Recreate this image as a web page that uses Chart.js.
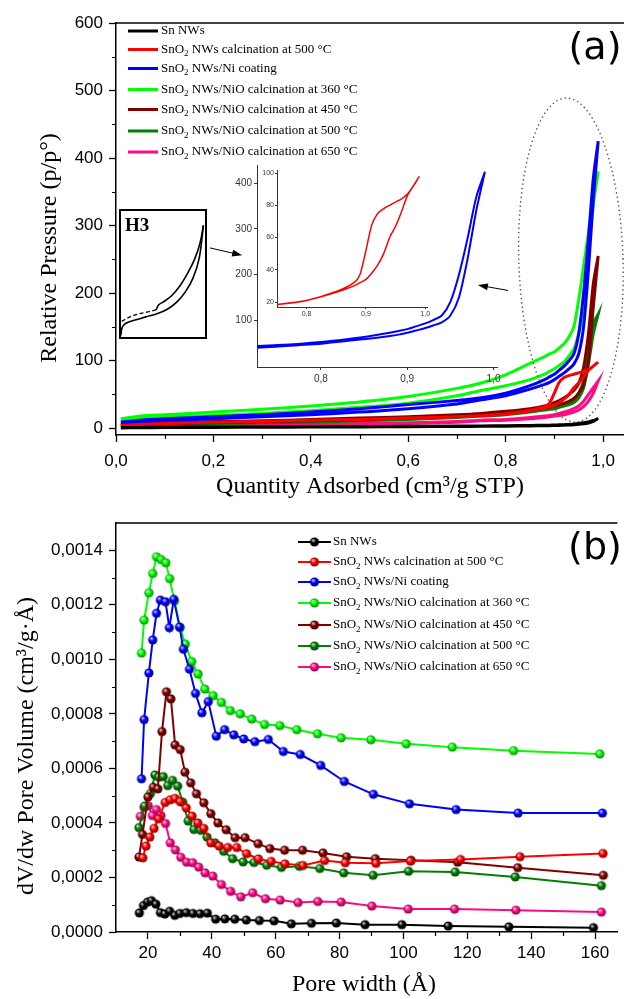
<!DOCTYPE html>
<html>
<head>
<meta charset="utf-8">
<script src="https://cdn.jsdelivr.net/npm/chart.js@4.4.1/dist/chart.umd.min.js"></script>
<style>
  html, body { margin: 0; padding: 0; background: #fff; }
  #wrap { position: relative; width: 624px; height: 999px; overflow: hidden; }
  .box { position: absolute; }
</style>
</head>
<body>
<div id="wrap">
  <div class="box" style="left:0;top:0;width:624px;height:500px"><canvas id="chartA" width="624" height="500"></canvas></div>
  <div class="box" style="left:0;top:500px;width:624px;height:499px"><canvas id="chartB" width="624" height="499"></canvas></div>
  <div class="box" style="left:118px;top:208px;width:90px;height:132px"><canvas id="insetH3" width="90" height="132"></canvas></div>
  <div class="box" style="left:215px;top:155px;width:300px;height:240px"><canvas id="insetNi" width="300" height="240"></canvas></div>
  <div class="box" style="left:250px;top:162px;width:190px;height:165px"><canvas id="insetSnO2" width="190" height="165"></canvas></div>
</div>
<script>
// ---------- panel (a): isotherms ----------
const P = [0.01, 0.05, 0.1, 0.2, 0.3, 0.4, 0.5, 0.6, 0.7, 0.75, 0.8, 0.85, 0.88, 0.89, 0.9, 0.91, 0.92, 0.93, 0.94, 0.95, 0.96, 0.97, 0.98, 0.99];

const adsSn   = [0.5, 0.8, 1, 1.2, 1.5, 1.8, 2, 2.3, 2.6, 2.8, 3, 3.4, 3.7, 3.8, 4, 4.2, 4.5, 4.8, 5.2, 5.8, 6.6, 7.8, 10, 14.5];
const desSn   = [1, 1.2, 1.5, 1.8, 2, 2.3, 2.6, 2.9, 3.2, 3.4, 3.7, 4.1, 4.5, 4.6, 4.8, 5, 5.3, 5.7, 6.2, 7, 8, 9.3, 11.5, 14.5];
const adsSnO2 = [4, 6, 7, 9, 10, 12, 13, 15, 17, 18.5, 21, 26, 30, 32, 34, 38, 43, 50, 60, 67, 76, 86, 92, 98];
const desSnO2 = [4, 6, 7, 9, 10, 12, 13, 15, 17, 18.5, 21, 26.5, 32, 37, 52, 68, 75, 78, 80, 82, 84, 87, 92, 98];
const adsNi   = [6, 9, 11, 14, 17, 20, 24, 29, 36, 42, 48, 58, 65, 68, 72, 77, 82, 88, 95, 110, 150, 235, 340, 425];
const desNi   = [9, 12, 14, 17, 20, 24, 29, 35, 41, 45, 52, 63, 72, 76, 80, 86, 92, 100, 110, 140, 200, 280, 370, 425];
const ads360  = [10, 14, 16, 19, 22, 26, 31, 37, 48, 56, 63, 72, 80, 84, 88, 93, 98, 107, 117, 140, 175, 255, 330, 380];
const des360  = [14, 18, 20, 24, 28, 33, 39, 47, 59, 67, 79, 96, 106, 110, 113, 119, 125, 135, 150, 190, 240, 290, 345, 380];
const ads450  = [4, 6, 7, 8, 10, 11, 13, 15, 18, 20, 23, 27, 30, 31, 33, 35, 37, 40, 44, 52, 64, 100, 180, 255];
const des450  = [5, 7, 8, 10, 11, 13, 15, 17, 20, 22, 25, 29, 33, 35, 38, 41, 45, 50, 56, 66, 90, 140, 214, 255];
const ads500  = [3, 5, 6, 7, 8, 9, 11, 13, 16, 18, 20, 24, 27, 28, 29, 31, 33, 35, 38, 45, 60, 95, 140, 169];
const des500  = [4, 6, 7, 8, 9, 11, 12, 14, 17, 19, 22, 26, 29, 30, 32, 34, 36, 39, 43, 52, 70, 110, 155, 169];
const ads650  = [1, 2, 2, 3, 4, 5, 6, 7, 9, 11, 12, 14, 16, 17, 18, 19, 20, 22, 24, 27, 32, 40, 52, 70];
const des650  = [2, 3, 3, 4, 5, 6, 7, 8, 10, 12, 13, 16, 18, 19, 20, 22, 24, 26, 29, 33, 40, 50, 60, 70];

const xTicksA = [0, 0.2, 0.4, 0.6, 0.8, 1.0];
const yTicksA = [0, 100, 200, 300, 400, 500, 600];

// H3 sketch (unitless box coordinates)
const h3AdsX  = [0.01, 0.02, 0.04, 0.1, 0.2, 0.3, 0.43, 0.55, 0.66, 0.76, 0.85, 0.92, 0.97];
const h3AdsY  = [0.02, 0.07, 0.1, 0.125, 0.145, 0.165, 0.19, 0.225, 0.28, 0.36, 0.47, 0.62, 0.88];
const h3DesX  = [0.97, 0.93, 0.87, 0.79, 0.7, 0.6, 0.5, 0.45, 0.42];
const h3DesY  = [0.88, 0.74, 0.62, 0.51, 0.41, 0.33, 0.28, 0.26, 0.22];
const h3DashX = [0.42, 0.3, 0.2, 0.1, 0.02];
const h3DashY = [0.22, 0.2, 0.185, 0.16, 0.13];

// ---------- panel (b): pore size distribution ----------
const wSn   = [17.3, 18.6, 19.9, 21.1, 22.5, 23.9, 25.3, 26.8, 28.4, 30.0, 32.0, 34.1, 36.3, 38.6, 41.2, 44.1, 47.2, 50.8, 54.9, 59.5, 64.9, 71.2, 79.0, 88.0, 99.5, 114.0, 133.0, 159.5];
const vSn   = [0.000070, 0.000097, 0.000110, 0.000115, 0.000102, 0.000071, 0.000066, 0.000076, 0.000061, 0.000068, 0.000071, 0.000068, 0.000067, 0.000069, 0.000047, 0.000048, 0.000047, 0.000044, 0.000042, 0.000041, 0.000030, 0.000032, 0.000033, 0.000027, 0.000027, 0.000022, 0.000019, 0.000016];
const wSnO2 = [18.4, 19.4, 20.6, 21.9, 23.3, 25.4, 27.0, 28.5, 30.1, 32.0, 33.8, 35.6, 37.5, 39.7, 42.3, 45.0, 47.8, 50.9, 54.6, 58.6, 62.9, 68.5, 75.3, 81.8, 91.4, 102.2, 117.9, 136.5, 162.5];
const vSnO2 = [0.000272, 0.000315, 0.000348, 0.000380, 0.000415, 0.000475, 0.000485, 0.000490, 0.000478, 0.000455, 0.000425, 0.000400, 0.000380, 0.000327, 0.000315, 0.000310, 0.000310, 0.000287, 0.000268, 0.000259, 0.000250, 0.000244, 0.000262, 0.000254, 0.000252, 0.000260, 0.000266, 0.000276, 0.000288];
const wNi   = [18.0, 18.8, 20.3, 21.5, 22.7, 23.9, 25.5, 26.7, 28.1, 29.9, 31.1, 33.0, 34.9, 36.9, 38.9, 41.4, 44.0, 46.9, 50.0, 53.5, 57.7, 62.4, 67.7, 74.1, 81.5, 90.6, 101.9, 116.5, 135.9, 162.3];
const vNi   = [0.000562, 0.000779, 0.000950, 0.001071, 0.001169, 0.001217, 0.001211, 0.001116, 0.001220, 0.001119, 0.001037, 0.000964, 0.000875, 0.000804, 0.000845, 0.000718, 0.000742, 0.000723, 0.000708, 0.000698, 0.000706, 0.000662, 0.000651, 0.000611, 0.000552, 0.000505, 0.000470, 0.000449, 0.000436, 0.000436];
const w360  = [18.0, 18.8, 20.3, 21.5, 22.7, 24.1, 25.6, 26.8, 28.3, 30.1, 31.7, 33.7, 35.7, 37.8, 40.4, 43.0, 45.8, 48.9, 52.5, 56.5, 61.3, 66.6, 73.1, 80.5, 89.8, 100.9, 115.3, 134.5, 161.5];
const v360  = [0.001023, 0.001144, 0.001244, 0.001315, 0.001376, 0.001366, 0.001354, 0.001296, 0.001214, 0.001116, 0.001056, 0.000992, 0.000946, 0.000891, 0.000867, 0.000842, 0.000812, 0.000800, 0.000781, 0.000761, 0.000757, 0.000742, 0.000727, 0.000712, 0.000705, 0.000690, 0.000678, 0.000665, 0.000653];
const w450  = [17.2, 18.3, 20.0, 21.7, 23.1, 24.4, 25.8, 27.2, 28.5, 30.1, 31.6, 33.4, 35.2, 37.5, 39.7, 41.9, 44.5, 47.3, 50.4, 54.5, 58.2, 62.8, 68.4, 74.8, 82.2, 91.2, 102.4, 117.0, 135.8, 162.6];
const v450  = [0.000275, 0.000358, 0.000495, 0.000531, 0.000525, 0.000735, 0.000881, 0.000855, 0.000686, 0.000669, 0.000586, 0.000547, 0.000507, 0.000474, 0.000434, 0.000400, 0.000375, 0.000346, 0.000346, 0.000324, 0.000306, 0.000300, 0.000300, 0.000290, 0.000276, 0.000269, 0.000263, 0.000256, 0.000236, 0.000208];
const w500  = [17.2, 19.0, 20.8, 22.2, 23.4, 24.8, 26.2, 27.7, 29.3, 30.9, 32.6, 34.4, 36.5, 38.5, 41.0, 43.7, 46.5, 49.8, 53.2, 57.2, 61.8, 67.4, 73.8, 81.3, 90.5, 101.6, 116.2, 135.0, 162.0];
const v500  = [0.000383, 0.000462, 0.000508, 0.000576, 0.000568, 0.000570, 0.000537, 0.000556, 0.000535, 0.000476, 0.000407, 0.000376, 0.000373, 0.000348, 0.000327, 0.000296, 0.000269, 0.000257, 0.000255, 0.000245, 0.000237, 0.000241, 0.000233, 0.000217, 0.000208, 0.000223, 0.000220, 0.000202, 0.000170];
const w650  = [17.6, 18.8, 20.1, 21.4, 22.7, 24.1, 25.5, 27.0, 28.6, 30.3, 32.1, 34.0, 35.9, 37.9, 40.3, 43.0, 45.9, 49.1, 52.8, 56.8, 61.4, 67.0, 73.2, 80.5, 90.1, 101.5, 116.0, 135.2, 162.0];
const v650  = [0.000424, 0.000457, 0.000463, 0.000427, 0.000449, 0.000427, 0.000398, 0.000327, 0.000301, 0.000274, 0.000256, 0.000254, 0.000238, 0.000217, 0.000205, 0.000174, 0.000149, 0.000129, 0.000144, 0.000122, 0.000117, 0.000108, 0.000112, 0.000110, 0.000095, 0.000084, 0.000084, 0.000080, 0.000073];

const xTicksB = [20, 40, 60, 80, 100, 120, 140, 160];
const yTicksB = [0, 0.0002, 0.0004, 0.0006, 0.0008, 0.0010, 0.0012, 0.0014];

const seriesNames = [
  'Sn NWs',
  'SnO2 NWs calcination at 500 °C',
  'SnO2 NWs/Ni coating',
  'SnO2 NWs/NiO calcination at 360 °C',
  'SnO2 NWs/NiO calcination at 450 °C',
  'SnO2 NWs/NiO calcination at 500 °C',
  'SnO2 NWs/NiO calcination at 650 °C'
];
const seriesColors = ['#000000', '#ff0000', '#0000ff', '#00ff00', '#800000', '#008000', '#ff0a85'];

const adsAll = [adsSn, adsSnO2, adsNi, ads360, ads450, ads500, ads650];
const desAll = [desSn, desSnO2, desNi, des360, des450, des500, des650];
const wAll = [wSn, wSnO2, wNi, w360, w450, w500, w650];
const vAll = [vSn, vSnO2, vNi, v360, v450, v500, v650];

// ---------- helpers ----------
function loop(ads, des) {
  const pts = P.map((p, i) => ({ x: p, y: ads[i] }));
  for (let i = P.length - 1; i >= 0; i--) pts.push({ x: P[i], y: des[i] });
  return pts;
}
function pairs(xs, ys) {
  return xs.map((x, i) => ({ x: x, y: ys[i] }));
}
function mix(hex, target, t) {
  const n = parseInt(hex.slice(1), 16);
  const r = (n >> 16) & 255, g = (n >> 8) & 255, b = n & 255;
  const m = c => Math.round(c + (target - c) * t);
  return 'rgb(' + m(r) + ',' + m(g) + ',' + m(b) + ')';
}
function makeBall(color, r) {
  const c = document.createElement('canvas');
  const s = Math.ceil(r * 2 + 2);
  c.width = s; c.height = s;
  const g = c.getContext('2d');
  const grad = g.createRadialGradient(s / 2 - r * 0.35, s / 2 - r * 0.4, r * 0.1, s / 2, s / 2, r);
  grad.addColorStop(0, mix(color, 255, 0.75));
  grad.addColorStop(0.45, color);
  grad.addColorStop(1, mix(color, 0, 0.45));
  g.fillStyle = grad;
  g.beginPath(); g.arc(s / 2, s / 2, r, 0, Math.PI * 2); g.fill();
  return c;
}
const balls = seriesColors.map(c => makeBall(c, 4.6));

// text with subscript 2 in "SnO2"
function drawLabel(ctx, text, x, y, size) {
  ctx.textBaseline = 'middle';
  ctx.textAlign = 'left';
  ctx.fillStyle = '#000';
  const font = size + 'px "Liberation Serif", "Times New Roman", serif';
  const small = Math.round(size * 0.68) + 'px "Liberation Serif", "Times New Roman", serif';
  if (text.startsWith('SnO2')) {
    ctx.font = font;
    ctx.fillText('SnO', x, y);
    x += ctx.measureText('SnO').width;
    ctx.font = small;
    ctx.fillText('2', x, y + size * 0.32);
    x += ctx.measureText('2').width;
    ctx.font = font;
    ctx.fillText(text.slice(4), x, y);
  } else {
    ctx.font = font;
    ctx.fillText(text, x, y);
  }
}

function drawArrow(ctx, x0, y0, x1, y1) {
  const ang = Math.atan2(y1 - y0, x1 - x0);
  ctx.beginPath(); ctx.moveTo(x0, y0); ctx.lineTo(x1 - Math.cos(ang) * 6, y1 - Math.sin(ang) * 6); ctx.stroke();
  ctx.beginPath();
  ctx.moveTo(x1, y1);
  ctx.lineTo(x1 - Math.cos(ang) * 10 + Math.sin(ang) * 3.5, y1 - Math.sin(ang) * 10 - Math.cos(ang) * 3.5);
  ctx.lineTo(x1 - Math.cos(ang) * 10 - Math.sin(ang) * 3.5, y1 - Math.sin(ang) * 10 + Math.cos(ang) * 3.5);
  ctx.closePath(); ctx.fill();
}

// ---------- plugins ----------
const frameTop = {
  id: 'frameTop',
  afterDraw(chart) {
    const a = chart.chartArea, c = chart.ctx;
    c.save(); c.strokeStyle = '#000'; c.lineWidth = 1.5;
    c.beginPath(); c.moveTo(a.left, a.top); c.lineTo(a.right, a.top); c.stroke();
    c.restore();
  }
};

const minorTicks = {
  id: 'minorTicks',
  afterDraw(chart, args, opts) {
    const c = chart.ctx, a = chart.chartArea;
    const xs = chart.scales.x, ys = chart.scales.y;
    c.save(); c.strokeStyle = '#000'; c.lineWidth = 1.2; c.beginPath();
    (opts.x || []).forEach(v => { const px = Math.round(xs.getPixelForValue(v)) + 0.5; c.moveTo(px, a.bottom); c.lineTo(px, a.bottom + opts.len); });
    (opts.y || []).forEach(v => { const py = Math.round(ys.getPixelForValue(v)) + 0.5; c.moveTo(a.left, py); c.lineTo(a.left - opts.len, py); });
    c.stroke(); c.restore();
  }
};

const axisTitles = {
  id: 'axisTitles',
  afterDraw(chart, args, opts) {
    const c = chart.ctx;
    c.save();
    c.fillStyle = '#000';
    c.font = '24px "Liberation Serif", "Times New Roman", serif';
    c.textAlign = 'center'; c.textBaseline = 'middle';
    c.fillText(opts.xText, opts.xPos[0], opts.xPos[1]);
    c.translate(opts.yPos[0], opts.yPos[1]);
    c.rotate(-Math.PI / 2);
    c.fillText(opts.yText, 0, 0);
    c.restore();
    c.save();
    c.fillStyle = '#000';
    c.font = '38px "DejaVu Sans", sans-serif';
    c.textAlign = 'center'; c.textBaseline = 'middle';
    c.fillText(opts.panel, opts.panelPos[0], opts.panelPos[1]);
    c.restore();
  }
};

const legendA = {
  id: 'legendA',
  afterDraw(chart) {
    const c = chart.ctx;
    const rows = [31, 49.5, 68.5, 89.5, 109.5, 131, 152];
    c.save();
    seriesNames.forEach((name, i) => {
      c.strokeStyle = seriesColors[i]; c.lineWidth = 3;
      c.beginPath(); c.moveTo(128, rows[i]); c.lineTo(158, rows[i]); c.stroke();
      drawLabel(c, name, 161, rows[i], 13);
    });
    c.restore();
  }
};

const legendB = {
  id: 'legendB',
  afterDraw(chart) {
    const c = chart.ctx;
    const rows = [42, 62, 82, 103, 125, 146, 167];
    c.save();
    seriesNames.forEach((name, i) => {
      c.strokeStyle = seriesColors[i]; c.lineWidth = 2;
      c.beginPath(); c.moveTo(298, rows[i]); c.lineTo(331, rows[i]); c.stroke();
      c.drawImage(balls[i], 314.5 - balls[i].width / 2, rows[i] - balls[i].height / 2);
      drawLabel(c, name, 333, rows[i], 13);
    });
    c.restore();
  }
};

// dotted ellipse + arrows, placed in data units of panel (a)
const ellipseA = { x: 0.934, y: 249, rx: 0.107, ry: 240 };
const arrowsA = [
  { from: [0.193, 267], to: [0.259, 256] },
  { from: [0.805, 204], to: [0.743, 212] }
];
const annotA = {
  id: 'annotA',
  afterDraw(chart) {
    const c = chart.ctx, xs = chart.scales.x, ys = chart.scales.y;
    const cx = xs.getPixelForValue(ellipseA.x), cy = ys.getPixelForValue(ellipseA.y);
    const rx = xs.getPixelForValue(ellipseA.x + ellipseA.rx) - cx;
    const ry = cy - ys.getPixelForValue(ellipseA.y + ellipseA.ry);
    c.save();
    c.strokeStyle = '#555'; c.lineWidth = 1.4; c.setLineDash([1.4, 3]);
    c.beginPath(); c.ellipse(cx, cy, rx, ry, -0.03, 0, Math.PI * 2); c.stroke();
    c.setLineDash([]);
    c.strokeStyle = '#000'; c.fillStyle = '#000'; c.lineWidth = 1;
    arrowsA.forEach(a => {
      drawArrow(c, xs.getPixelForValue(a.from[0]), ys.getPixelForValue(a.from[1]),
                   xs.getPixelForValue(a.to[0]), ys.getPixelForValue(a.to[1]));
    });
    c.restore();
  }
};

const h3Box = {
  id: 'h3Box',
  afterDraw(chart) {
    const c = chart.ctx, a = chart.chartArea;
    c.save();
    c.strokeStyle = '#000'; c.lineWidth = 2;
    c.strokeRect(a.left, a.top, a.right - a.left, a.bottom - a.top);
    c.fillStyle = '#000';
    c.font = 'bold 19px "Liberation Serif", "Times New Roman", serif';
    c.textAlign = 'left'; c.textBaseline = 'middle';
    c.fillText('H3', a.left + 5, a.top + 16);
    c.restore();
  }
};

function fixedTicks(list) {
  return s => { s.ticks = list.map(v => ({ value: v })); };
}
const commaFmt = d => v => v.toFixed(d).replace('.', ',');

Chart.defaults.font.family = '"Liberation Sans", Arial, sans-serif';
Chart.defaults.color = '#000';

// ---------- chart (a) ----------
new Chart(document.getElementById('chartA'), {
  type: 'scatter',
  data: {
    datasets: adsAll.map((ads, i) => ({
      label: seriesNames[i],
      data: loop(ads, desAll[i]),
      showLine: true,
      borderColor: seriesColors[i],
      borderWidth: 3,
      pointRadius: 0,
      tension: 0.25
    }))
  },
  options: {
    responsive: false,
    animation: false,
    events: [],
    layout: { padding: { top: 23, right: 0, left: 0, bottom: 0 } },
    plugins: {
      legend: { display: false },
      tooltip: { enabled: false },
      minorTicks: { x: [0.1, 0.3, 0.5, 0.7, 0.9], y: [50, 150, 250, 350, 450, 550], len: 4 },
      axisTitles: {
        xText: 'Quantity Adsorbed (cm³/g STP)', xPos: [370, 487],
        yText: 'Relative Pressure (p/p°)', yPos: [50, 248],
        panel: '(a)', panelPos: [595, 49]
      }
    },
    scales: {
      x: {
        type: 'linear', min: 0, max: 1.043,
        afterBuildTicks: fixedTicks(xTicksA),
        afterFit: s => { s.height = 65; },
        grid: { drawOnChartArea: false, tickLength: 7, tickColor: '#000', tickWidth: 1.3 },
        border: { color: '#000', width: 1.5 },
        ticks: { font: { size: 17 }, padding: 9, maxRotation: 0, autoSkip: false, callback: commaFmt(1) }
      },
      y: {
        type: 'linear', min: -10, max: 600,
        afterBuildTicks: fixedTicks(yTicksA),
        afterFit: s => { s.width = 116; },
        grid: { drawOnChartArea: false, tickLength: 7, tickColor: '#000', tickWidth: 1.3 },
        border: { color: '#000', width: 1.5 },
        ticks: { font: { size: 17 }, padding: 6, autoSkip: false }
      }
    }
  },
  plugins: [frameTop, minorTicks, axisTitles, legendA, annotA]
});

// ---------- inset: H3 sketch ----------
new Chart(document.getElementById('insetH3'), {
  type: 'scatter',
  data: {
    datasets: [
      { data: pairs(h3AdsX, h3AdsY), showLine: true, borderColor: '#000', borderWidth: 1.6, pointRadius: 0, tension: 0.35 },
      { data: pairs(h3DesX, h3DesY), showLine: true, borderColor: '#000', borderWidth: 1.6, pointRadius: 0, tension: 0.35 },
      { data: pairs(h3DashX, h3DashY), showLine: true, borderColor: '#000', borderWidth: 1.4, borderDash: [4, 2.5], pointRadius: 0, tension: 0.35 }
    ]
  },
  options: {
    responsive: false, animation: false, events: [],
    layout: { padding: 2 },
    plugins: { legend: { display: false }, tooltip: { enabled: false } },
    scales: {
      x: { type: 'linear', min: 0, max: 1, display: false },
      y: { type: 'linear', min: 0, max: 1, display: false }
    }
  },
  plugins: [h3Box]
});

// ---------- inset: Ni coating zoom ----------
new Chart(document.getElementById('insetNi'), {
  type: 'scatter',
  data: {
    datasets: [{ data: loop(adsNi, desNi), showLine: true, borderColor: '#0000ff', borderWidth: 2, pointRadius: 0, tension: 0.25 }]
  },
  options: {
    responsive: false, animation: false, events: [],
    layout: { padding: { top: 10, right: 18, left: 0, bottom: 0 } },
    plugins: { legend: { display: false }, tooltip: { enabled: false } },
    scales: {
      x: {
        type: 'linear', min: 0.726, max: 1.004,
        afterBuildTicks: fixedTicks([0.8, 0.9, 1.0]),
        afterFit: s => { s.height = 28; },
        grid: { drawOnChartArea: false, tickLength: 3, tickColor: '#333' },
        border: { color: '#333', width: 1 },
        ticks: { font: { size: 10 }, color: '#333', padding: 3, maxRotation: 0, callback: commaFmt(1) }
      },
      y: {
        type: 'linear', min: -3, max: 440,
        afterBuildTicks: fixedTicks([100, 200, 300, 400]),
        afterFit: s => { s.width = 42; },
        grid: { drawOnChartArea: false, tickLength: 3, tickColor: '#333' },
        border: { color: '#333', width: 1 },
        ticks: { font: { size: 10 }, color: '#333', padding: 2 }
      }
    }
  }
});

// ---------- inset: SnO2 zoom ----------
new Chart(document.getElementById('insetSnO2'), {
  type: 'scatter',
  data: {
    datasets: [{ data: loop(adsSnO2, desSnO2), showLine: true, borderColor: '#ff0000', borderWidth: 1.5, pointRadius: 0, tension: 0.25 }]
  },
  options: {
    responsive: false, animation: false, events: [],
    layout: { padding: { top: 8, right: 13, left: 0, bottom: 0 } },
    plugins: { legend: { display: false }, tooltip: { enabled: false } },
    scales: {
      x: {
        type: 'linear', min: 0.75, max: 1.003,
        afterBuildTicks: fixedTicks([0.8, 0.9, 1.0]),
        afterFit: s => { s.height = 20; },
        grid: { drawOnChartArea: false, tickLength: 2, tickColor: '#333' },
        border: { color: '#333', width: 1 },
        ticks: { font: { size: 7 }, color: '#333', padding: 1, maxRotation: 0, callback: commaFmt(1) }
      },
      y: {
        type: 'linear', min: 16.9, max: 101.9,
        afterBuildTicks: fixedTicks([20, 40, 60, 80, 100]),
        afterFit: s => { s.width = 27; },
        grid: { drawOnChartArea: false, tickLength: 2, tickColor: '#333' },
        border: { color: '#333', width: 1 },
        ticks: { font: { size: 7 }, color: '#333', padding: 1 }
      }
    }
  }
});

// ---------- chart (b) ----------
new Chart(document.getElementById('chartB'), {
  type: 'scatter',
  data: {
    datasets: wAll.map((w, i) => ({
      label: seriesNames[i],
      data: pairs(w, vAll[i]),
      showLine: true,
      borderColor: seriesColors[i],
      borderWidth: 2,
      pointStyle: balls[i],
      pointRadius: 4.6,
      tension: 0
    }))
  },
  options: {
    responsive: false,
    animation: false,
    events: [],
    layout: { padding: { top: 23, right: 0, left: 0, bottom: 0 } },
    plugins: {
      legend: { display: false },
      tooltip: { enabled: false },
      minorTicks: { x: [30, 50, 70, 90, 110, 130, 150], y: [0.0001, 0.0003, 0.0005, 0.0007, 0.0009, 0.0011, 0.0013], len: 4 },
      axisTitles: {
        xText: 'Pore width (Å)', xPos: [364, 485],
        yText: 'dV/dw Pore Volume (cm³/g·Å)', yPos: [27, 246],
        panel: '(b)', panelPos: [595, 49]
      }
    },
    scales: {
      x: {
        type: 'linear', min: 10, max: 167,
        afterBuildTicks: fixedTicks(xTicksB),
        afterFit: s => { s.height = 67; },
        grid: { drawOnChartArea: false, tickLength: 7, tickColor: '#000', tickWidth: 1.3 },
        border: { color: '#000', width: 1.5 },
        ticks: { font: { size: 17 }, padding: 4, maxRotation: 0, autoSkip: false }
      },
      y: {
        type: 'linear', min: 0, max: 0.0015,
        afterBuildTicks: fixedTicks(yTicksB),
        afterFit: s => { s.width = 116; },
        grid: { drawOnChartArea: false, tickLength: 7, tickColor: '#000', tickWidth: 1.3 },
        border: { color: '#000', width: 1.5 },
        ticks: { font: { size: 17 }, padding: 6, autoSkip: false, callback: commaFmt(4) }
      }
    }
  },
  plugins: [frameTop, minorTicks, axisTitles, legendB]
});
</script>
</body>
</html>
